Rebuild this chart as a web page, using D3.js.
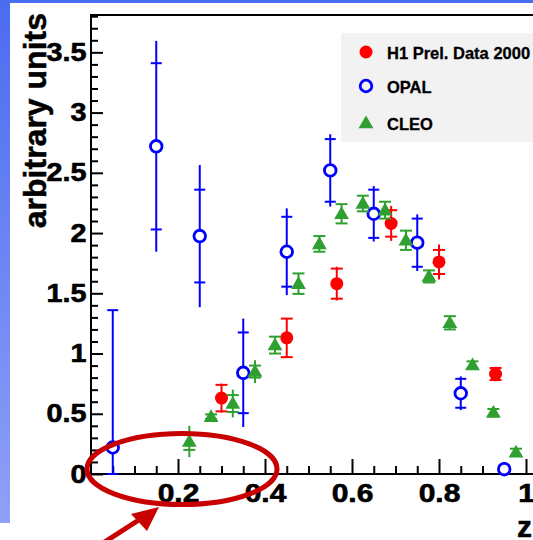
<!DOCTYPE html>
<html><head><meta charset="utf-8">
<script src="https://cdn.jsdelivr.net/npm/d3@7"></script>
<style>html,body{margin:0;padding:0;background:#fff;} svg{display:block}</style>
</head><body><svg id="c" width="533" height="540"></svg>
<script>
// ---- data ----
const h1Z = [0.30, 0.45, 0.565, 0.69, 0.80, 0.93];
const h1V = [0.63, 1.13, 1.58, 2.08, 1.76, 0.83];
const h1Stat = [0.11, 0.16, 0.125, 0.11, 0.10, 0.05];
const h1Tot = [0.12, 0.165, 0.14, 0.145, 0.145, 0.06];

const opalZ = [0.05, 0.15, 0.25, 0.35, 0.45, 0.55, 0.65, 0.75, 0.85, 0.95];
const opalV = [0.22, 2.72, 1.975, 0.84, 1.845, 2.52, 2.16, 1.92, 0.67, 0.04];
const opalStat = [1.14, 0.69, 0.385, 0.335, 0.29, 0.26, 0.20, 0.20, 0.12, 0.03];
const opalTot = [1.14, 0.875, 0.59, 0.45, 0.36, 0.30, 0.23, 0.235, 0.14, 0.06];

const cleoZ = [0.226, 0.276, 0.326, 0.377, 0.423, 0.477, 0.525, 0.576, 0.625, 0.676, 0.724, 0.777, 0.825, 0.877, 0.925, 0.977];
const cleoV = [0.27, 0.475, 0.585, 0.85, 1.07, 1.58, 1.91, 2.16, 2.245, 2.19, 1.94, 1.64, 1.255, 0.905, 0.51, 0.18];
const cleoStat = [0.07, 0.02, 0.07, 0.05, 0.07, 0.085, 0.065, 0.08, 0.065, 0.07, 0.08, 0.05, 0.055, 0.03, 0.03, 0.03];
const cleoTot = [0.13, 0.03, 0.115, 0.095, 0.07, 0.085, 0.065, 0.08, 0.065, 0.07, 0.08, 0.05, 0.055, 0.03, 0.03, 0.03];

const xMajor = [0.2, 0.4, 0.6, 0.8, 1];
const xMajorLabels = ["0.2", "0.4", "0.6", "0.8", "1"];
const yMajor = [0, 0.5, 1, 1.5, 2, 2.5, 3, 3.5];
const yMajorLabels = ["0", "0.5", "1", "1.5", "2", "2.5", "3", "3.5"];
const legendLabels = ["H1 Prel. Data 2000", "OPAL", "CLEO"];

// ---- layout ----
const svg = d3.select("#c");
const X0 = 91, X1 = 526, Y0 = 474, YTOP = 15;
const x = d3.scaleLinear().domain([0, 1]).range([X0, X1]);
const y = d3.scaleLinear().domain([0, 3.81]).range([Y0, YTOP]);
const RED = "#ff0000", BLUE = "#0000ff", GREEN = "#2fa02f", DARKRED = "#c80000";
const FONT = "'Liberation Sans', Arial, Helvetica, sans-serif";

// background
const defs = svg.append("defs");
const g1 = defs.append("linearGradient").attr("id", "bg").attr("x1", 0).attr("y1", 0).attr("x2", 0).attr("y2", 1);
g1.append("stop").attr("offset", "0%").attr("stop-color", "#4a6cf0");
g1.append("stop").attr("offset", "100%").attr("stop-color", "#8fa0f8");
svg.append("rect").attr("x", 0).attr("y", 0).attr("width", 10).attr("height", 523).attr("fill", "url(#bg)");
svg.append("rect").attr("x", 0).attr("y", 0).attr("width", 533).attr("height", 3).attr("fill", "#4a6cf0");

// frame
svg.append("line").attr("x1", X0).attr("x2", 533).attr("y1", YTOP).attr("y2", YTOP).attr("stroke", "#000").attr("stroke-width", 2);

// axes
const xMinorVals = d3.range(0, 21).map(i => i * 0.05).filter(v => Math.abs((v / 0.2) - Math.round(v / 0.2)) > 1e-6);
const yMinorVals = d3.range(0, 39).map(i => i * 0.1).filter(v => Math.abs((v / 0.5) - Math.round(v / 0.5)) > 1e-6);

const xMinorAxis = d3.axisBottom(x).tickValues(xMinorVals).tickSizeInner(-8).tickSizeOuter(0).tickFormat("");
const xMajorAxis = d3.axisBottom(x).tickValues(xMajor).tickSizeInner(-15).tickSizeOuter(0)
  .tickFormat((d, i) => xMajorLabels[i]).tickPadding(10);
const yMinorAxis = d3.axisLeft(y).tickValues(yMinorVals).tickSizeInner(-7).tickSizeOuter(0).tickFormat("");
const yMajorAxis = d3.axisLeft(y).tickValues(yMajor).tickSizeInner(-12).tickSizeOuter(0)
  .tickFormat((d, i) => yMajorLabels[i]).tickPadding(4);

function styleAxis(g) {
  g.selectAll("path.domain").remove();
  g.selectAll("line").attr("stroke", "#000").attr("stroke-width", 2);
  g.selectAll("text").attr("font-family", FONT).attr("font-weight", "bold").attr("font-size", 25).attr("fill", "#000")
    .attr("stroke", "#000").attr("stroke-width", 0.6);
}
const gx = svg.append("g").attr("transform", `translate(0,${Y0})`);
gx.append("g").call(xMinorAxis).call(styleAxis);
gx.append("g").call(xMajorAxis).call(styleAxis);
gx.selectAll("text").attr("transform", "scale(1.2,1)").attr("x", 0);
svg.append("line").attr("x1", X0).attr("x2", 533).attr("y1", Y0).attr("y2", Y0).attr("stroke", "#000").attr("stroke-width", 2);

const gy = svg.append("g").attr("transform", `translate(${X0},0)`);
gy.append("g").call(yMinorAxis).call(styleAxis);
gy.append("g").call(yMajorAxis).call(styleAxis);
gy.selectAll("text").attr("transform", "scale(1.15,1)");
svg.append("line").attr("x1", X0).attr("x2", X0).attr("y1", YTOP - 1).attr("y2", Y0 + 1).attr("stroke", "#000").attr("stroke-width", 2);

// axis titles
svg.append("text").attr("transform", "translate(46,13) rotate(-90)")
  .attr("text-anchor", "end").attr("font-family", FONT).attr("font-weight", "bold").attr("font-size", 32)
  .attr("stroke", "#000").attr("stroke-width", 0.5)
  .text("arbitrary units");
svg.append("text").attr("x", 517).attr("y", 537).attr("font-family", FONT).attr("font-weight", "bold").attr("font-size", 30)
  .attr("stroke", "#000").attr("stroke-width", 0.5)
  .text("z");

// error bars
function drawSeries(zs, vs, stat, tot, color, tickW, lw) {
  const g = svg.append("g");
  zs.forEach((z, i) => {
    const cx = x(z);
    const lo = Math.max(0, vs[i] - tot[i]), hi = vs[i] + tot[i];
    g.append("line").attr("x1", cx).attr("x2", cx).attr("y1", y(lo)).attr("y2", y(hi))
      .attr("stroke", color).attr("stroke-width", lw);
    [Math.max(0, vs[i] - stat[i]), vs[i] + stat[i]].forEach(v => {
      g.append("line").attr("x1", cx - tickW / 2).attr("x2", cx + tickW / 2).attr("y1", y(v)).attr("y2", y(v))
        .attr("stroke", color).attr("stroke-width", lw);
    });
  });
  return g;
}
const tri = d3.symbol().type(d3.symbolTriangle).size(95);

// H1
const gH = drawSeries(h1Z, h1V, h1Stat, h1Tot, RED, 12, 2);
gH.selectAll("circle.m").data(h1Z).join("circle").attr("class", "m")
  .attr("cx", d => x(d)).attr("cy", (d, i) => y(h1V[i])).attr("r", 6.5).attr("fill", RED);
// OPAL
const gO = drawSeries(opalZ, opalV, opalStat, opalTot, BLUE, 11, 2);
gO.selectAll("circle.m").data(opalZ).join("circle").attr("class", "m")
  .attr("cx", d => x(d)).attr("cy", (d, i) => y(opalV[i])).attr("r", 5.8)
  .attr("fill", "#fff").attr("stroke", BLUE).attr("stroke-width", 2.8);
// CLEO
const gC = drawSeries(cleoZ, cleoV, cleoStat, cleoTot, GREEN, 12, 2);
gC.selectAll("path.m").data(cleoZ).join("path").attr("class", "m")
  .attr("transform", (d, i) => `translate(${x(d)},${y(cleoV[i]) + 1})`).attr("d", tri).attr("fill", GREEN);

// legend
svg.append("rect").attr("x", 341).attr("y", 33).attr("width", 200).attr("height", 109).attr("fill", "#f2f2f2");
const legY = [52, 86, 123];
svg.append("circle").attr("cx", 366).attr("cy", legY[0]).attr("r", 6.5).attr("fill", RED);
svg.append("circle").attr("cx", 366).attr("cy", legY[1]).attr("r", 5.8).attr("fill", "none").attr("stroke", BLUE).attr("stroke-width", 2.8);
svg.append("path").attr("transform", `translate(366,${legY[2] + 1})`).attr("d", tri).attr("fill", GREEN);
legendLabels.forEach((t, i) => {
  svg.append("text").attr("x", 387).attr("y", legY[i] + 6.5).attr("font-family", FONT).attr("font-weight", "bold")
    .attr("font-size", 16.5).attr("stroke", "#000").attr("stroke-width", 0.3).text(t);
});

// annotation
svg.append("ellipse").attr("cx", 182).attr("cy", 469).attr("rx", 95).attr("ry", 35.5)
  .attr("fill", "none").attr("stroke", DARKRED).attr("stroke-width", 5);
svg.append("line").attr("x1", 100).attr("y1", 545).attr("x2", 145).attr("y2", 516)
  .attr("stroke", DARKRED).attr("stroke-width", 5);
svg.append("path").attr("d", "M159,507 L131,514 L147,531 Z").attr("fill", DARKRED);
</script></body></html>
